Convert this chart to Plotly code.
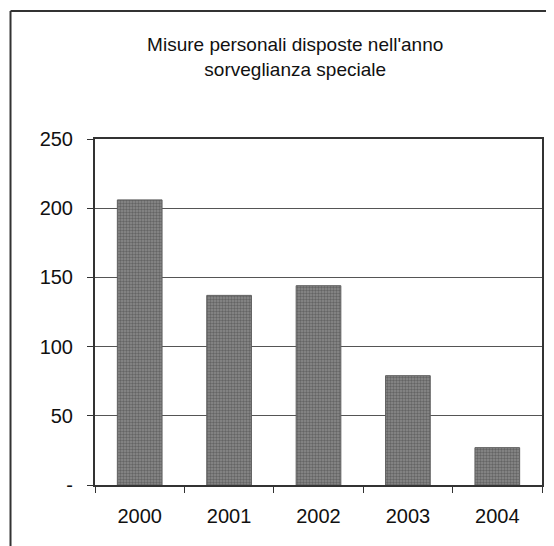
import plotly.graph_objects as go

anni = ["2000", "2001", "2002", "2003", "2004"]
misure = [206, 137, 144, 79, 27]
y_ticks = [0, 50, 100, 150, 200, 250]
y_labels = ["-", "50", "100", "150", "200", "250"]

fig = go.Figure(
    go.Bar(
        x=anni,
        y=misure,
        marker=dict(
            color="#8c8c8c",
            line=dict(color="#5f5f5f", width=1),
            pattern=dict(shape=".", fgcolor="#3c3c3c", size=3, solidity=0.5),
        ),
        width=0.5,
    )
)

fig.update_xaxes(
    tickson="boundaries",
    ticks="outside",
    ticklen=6,
    tickcolor="#333",
    showline=True,
    linecolor="#333",
    linewidth=2,
    mirror=True,
    tickfont=dict(size=20, color="#111"),
    ticklabelstandoff=12,
)
fig.update_yaxes(
    range=[0, 250],
    tickvals=y_ticks,
    ticktext=y_labels,
    ticks="outside",
    ticklen=6,
    tickcolor="#333",
    showline=True,
    linecolor="#333",
    linewidth=2,
    mirror=True,
    showgrid=True,
    gridcolor="#555",
    gridwidth=1,
    tickfont=dict(size=20, color="#111"),
    ticklabelstandoff=10,
)

# cornice esterna
outer = dict(type="line", xref="paper", yref="paper", line=dict(color="#333", width=2))
fig.add_shape(outer, x0=-0.189, x1=-0.189, y0=-0.2, y1=1.37)
fig.add_shape(outer, x0=-0.189, x1=1.05, y0=1.37, y1=1.37)

fig.update_layout(
    width=546,
    height=538,
    margin=dict(l=87, r=10, t=131, b=61),
    paper_bgcolor="white",
    plot_bgcolor="white",
    font=dict(family="Liberation Sans, Arial, sans-serif", color="#111"),
    title=dict(
        text="Misure personali disposte nell'anno<br>sorveglianza speciale",
        x=0.526,
        xanchor="center",
        y=0.92,
        yanchor="top",
        font=dict(size=19),
    ),
    showlegend=False,
)

fig.write_html("out.html")
